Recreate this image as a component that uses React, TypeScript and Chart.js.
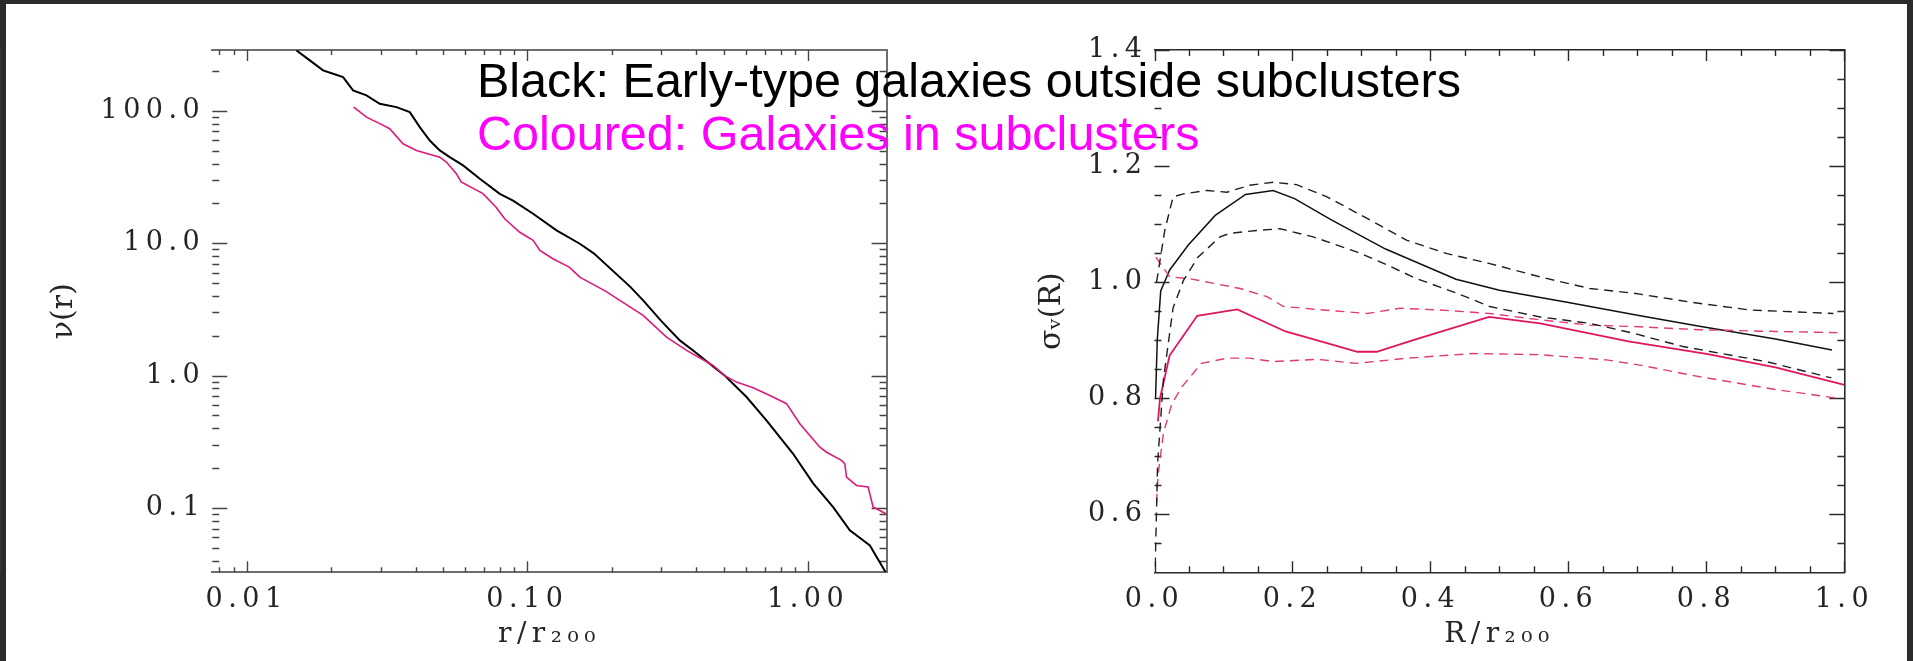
import React, { useEffect, useRef } from "react";
import { Chart, registerables } from "chart.js";

Chart.register(...registerables);

const W = 1913;
const H = 661;

// ---------- Left panel: nu(r) ----------
const ETG_R = [0.01506, 0.0168, 0.01873, 0.02033, 0.02207, 0.02395, 0.02674, 0.02981, 0.0342, 0.03814, 0.0414, 0.04494, 0.04878, 0.05294, 0.05905, 0.06774, 0.07981, 0.08898, 0.1049, 0.1271, 0.1538, 0.1725, 0.2333, 0.2586, 0.2998, 0.3494, 0.3897, 0.5052, 0.604, 0.711, 0.885, 1.043, 1.229, 1.409, 1.661, 1.89];
const ETG_NU = [285.9, 240.4, 202.2, 190.7, 179.7, 142.6, 130.7, 113.1, 106.7, 97.8, 75.3, 59.7, 50.2, 44.7, 38.7, 30.7, 23.6, 21.0, 16.7, 12.5, 9.91, 8.38, 4.66, 3.7, 2.59, 1.845, 1.55, 1.0, 0.689, 0.459, 0.257, 0.1535, 0.1016, 0.0678, 0.0522, 0.0327];
const SUB_R = [0.02408, 0.02674, 0.02981, 0.03235, 0.03608, 0.04028, 0.04878, 0.0515, 0.05589, 0.05813, 0.06953, 0.0774, 0.08307, 0.094, 0.1049, 0.1109, 0.1233, 0.1411, 0.1538, 0.1906, 0.2136, 0.2586, 0.3133, 0.3694, 0.4591, 0.505, 0.5563, 0.6374, 0.7509, 0.8381, 0.935, 1.102, 1.164, 1.316, 1.352, 1.371, 1.489, 1.637, 1.706, 1.754, 1.892];
const SUB_NU = [106.7, 89.6, 80.0, 73.3, 56.4, 50.2, 44.7, 41.0, 33.5, 29.0, 23.7, 18.7, 15.3, 12.1, 10.5, 8.83, 7.64, 6.6, 5.54, 4.33, 3.7, 2.85, 1.954, 1.55, 1.194, 1.0, 0.893, 0.81, 0.689, 0.614, 0.433, 0.288, 0.264, 0.229, 0.216, 0.171, 0.148, 0.144, 0.1016, 0.0988, 0.0905];

const NU_X_RANGE = [0.00755, 1.905];
const NU_Y_RANGE = [0.0327, 288];
const NU_X_TICKS = [0.01, 0.1, 1];
const NU_X_LABELS = ["0.01", "0.10", "1.00"];
const NU_Y_TICKS = [0.1, 1, 10, 100];
const NU_Y_LABELS = ["0.1", "1.0", "10.0", "100.0"];
const NU_X_MINOR = [0.008, 0.009, 0.02, 0.03, 0.04, 0.05, 0.06, 0.07, 0.08, 0.09, 0.2, 0.3, 0.4, 0.5, 0.6, 0.7, 0.8, 0.9];
const NU_Y_MINOR = [0.04, 0.05, 0.06, 0.07, 0.08, 0.09, 0.2, 0.3, 0.4, 0.5, 0.6, 0.7, 0.8, 0.9, 2, 3, 4, 5, 6, 7, 8, 9, 20, 30, 40, 50, 60, 70, 80, 90, 200];

// ---------- Right panel: sigma_v(R) ----------
const SIG_ETG_R = [0.0015, 0.004, 0.009, 0.022, 0.049, 0.088, 0.132, 0.172, 0.203, 0.257, 0.335, 0.437, 0.5, 0.6, 0.704, 0.79, 0.9, 0.982];
const SIG_ETG = [0.8, 0.9, 0.985, 1.021, 1.064, 1.115, 1.151, 1.158, 1.144, 1.107, 1.057, 1.005, 0.986, 0.965, 0.942, 0.924, 0.902, 0.883];
const SIG_ETG_HI_R = [0.003, 0.015, 0.027, 0.042, 0.076, 0.105, 0.138, 0.172, 0.206, 0.25, 0.317, 0.366, 0.424, 0.486, 0.559, 0.631, 0.694, 0.78, 0.863, 0.984];
const SIG_ETG_HI = [1.0, 1.09, 1.147, 1.152, 1.158, 1.155, 1.167, 1.172, 1.168, 1.147, 1.104, 1.072, 1.049, 1.032, 1.009, 0.989, 0.981, 0.965, 0.952, 0.946];
const SIG_ETG_LO_R = [0.001, 0.0045, 0.013, 0.027, 0.042, 0.063, 0.095, 0.109, 0.148, 0.182, 0.23, 0.293, 0.327, 0.38, 0.438, 0.486, 0.559, 0.631, 0.694, 0.766, 0.887, 0.981];
const SIG_ETG_LO = [0.51, 0.688, 0.833, 0.956, 1.003, 1.043, 1.078, 1.084, 1.089, 1.092, 1.078, 1.052, 1.035, 1.006, 0.981, 0.958, 0.94, 0.929, 0.912, 0.889, 0.863, 0.835];
const SIG_SUB_R = [0.005, 0.008, 0.022, 0.062, 0.12, 0.19, 0.25, 0.294, 0.322, 0.375, 0.485, 0.559, 0.687, 0.802, 0.9, 1.0];
const SIG_SUB = [0.76, 0.8, 0.874, 0.942, 0.953, 0.915, 0.895, 0.88, 0.88, 0.9, 0.94, 0.929, 0.898, 0.876, 0.853, 0.823];
const SIG_SUB_HI_R = [0.002, 0.022, 0.051, 0.124, 0.163, 0.187, 0.245, 0.308, 0.356, 0.414, 0.486, 0.559, 0.631, 0.704, 0.79, 0.9, 0.99];
const SIG_SUB_HI = [1.043, 1.009, 1.006, 0.989, 0.975, 0.958, 0.952, 0.946, 0.955, 0.952, 0.946, 0.935, 0.926, 0.923, 0.918, 0.915, 0.913];
const SIG_SUB_LO_R = [0.003, 0.005, 0.013, 0.025, 0.04, 0.068, 0.105, 0.138, 0.172, 0.235, 0.293, 0.366, 0.462, 0.559, 0.655, 0.704, 0.79, 0.9, 0.99];
const SIG_SUB_LO = [0.62, 0.666, 0.74, 0.79, 0.82, 0.86, 0.869, 0.869, 0.863, 0.867, 0.86, 0.869, 0.877, 0.875, 0.866, 0.857, 0.837, 0.815, 0.8];

const SIG_X_RANGE = [0, 1];
const SIG_Y_RANGE = [0.5, 1.4];
const SIG_X_TICKS = [0, 0.2, 0.4, 0.6, 0.8, 1.0];
const SIG_X_LABELS = ["0.0", "0.2", "0.4", "0.6", "0.8", "1.0"];
const SIG_Y_TICKS = [0.6, 0.8, 1.0, 1.2, 1.4];
const SIG_Y_LABELS = ["0.6", "0.8", "1.0", "1.2", "1.4"];
const SIG_X_MINOR = [0.05, 0.1, 0.15, 0.25, 0.3, 0.35, 0.45, 0.5, 0.55, 0.65, 0.7, 0.75, 0.85, 0.9, 0.95];
const SIG_Y_MINOR = [0.55, 0.65, 0.7, 0.75, 0.85, 0.9, 0.95, 1.05, 1.1, 1.15, 1.25, 1.3, 1.35];

const LEGEND_LINES = ["Black: Early-type galaxies outside subclusters", "Coloured: Galaxies in subclusters"];
const LEGEND_COLORS = ["#000000", "#ff00ff"];

const SERIF = "'DejaVu Serif', serif";
const TICK_FONT = { family: SERIF, size: 27 };
const X_TITLE_FONT = { family: SERIF, size: 28 };
const Y_TITLE_FONT = { family: SERIF, size: 30 };
const TEXT_COLOR = "#252525";
const LABEL_SPACING = "5.5px";

const pts = (xs: number[], ys: number[]) => xs.map((x, i) => ({ x, y: ys[i] }));

// IDL-like inward ticks on all four sides
const idlTicks = {
  id: "idlTicks",
  beforeDatasetsDraw(chart: any, _args: any, o: any) {
    const { ctx, chartArea: a, scales } = chart;
    const xs = scales.x;
    const ys = scales.y;
    ctx.save();
    ctx.strokeStyle = o.color;
    ctx.lineWidth = o.width;
    ctx.beginPath();
    const vert = (vals: number[], len: number) =>
      vals.forEach((v) => {
        const p = Math.round(xs.getPixelForValue(v)) + 0.5;
        ctx.moveTo(p, a.bottom);
        ctx.lineTo(p, a.bottom - len);
        ctx.moveTo(p, a.top);
        ctx.lineTo(p, a.top + len);
      });
    const hor = (vals: number[], len: number) =>
      vals.forEach((v) => {
        const p = Math.round(ys.getPixelForValue(v)) + 0.5;
        ctx.moveTo(a.left, p);
        ctx.lineTo(a.left + len, p);
        ctx.moveTo(a.right, p);
        ctx.lineTo(a.right - len, p);
      });
    vert(o.xMajor, o.xMajorLen);
    vert(o.xMinor, o.xMinorLen);
    hor(o.yMajor, o.yMajorLen);
    hor(o.yMinor, o.yMinorLen);
    ctx.stroke();
    ctx.restore();
  },
};

// Hershey-like wide spacing for tick labels and x titles (drawn before datasets),
// normal spacing for the rotated y titles (drawn after datasets)
const spacing = {
  id: "hersheySpacing",
  beforeDraw(chart: any) {
    chart.ctx.letterSpacing = LABEL_SPACING;
  },
  afterDatasetsDraw(chart: any) {
    chart.ctx.letterSpacing = "0px";
  },
  afterDraw(chart: any) {
    chart.ctx.letterSpacing = "0px";
  },
};

const overlayText = {
  id: "overlayText",
  afterDraw(chart: any) {
    const ctx = chart.ctx;
    ctx.save();
    ctx.letterSpacing = "0px";
    ctx.font = "48.5px 'Liberation Sans', Arial, sans-serif";
    ctx.textAlign = "left";
    ctx.textBaseline = "alphabetic";
    ctx.fillStyle = LEGEND_COLORS[0];
    ctx.fillText(LEGEND_LINES[0], 477, 97);
    ctx.fillStyle = LEGEND_COLORS[1];
    ctx.fillText(LEGEND_LINES[1], 477, 150);
    ctx.restore();
  },
};

type Panel = {
  type: string;
  xRange: number[];
  yRange: number[];
  xTicks: number[];
  xLabels: string[];
  yTicks: number[];
  yLabels: string[];
  xMinor: number[];
  yMinor: number[];
  xTitle: string;
  yTitle: string;
  boxLeft: number;
  area: { left: number; right: number; top: number; bottom: number };
  yTitleCenter: number;
  boxColor: string;
  boxWidth: number;
  tickColor: string;
  xMajorLen: number;
  xMinorLen: number;
  yMajorLen: number;
  yMinorLen: number;
};

function buildOptions(p: Panel) {
  const half = (Y_TITLE_FONT.size * 1.2) / 2;
  const border = { display: true, color: p.boxColor, width: p.boxWidth };
  const hidden = {
    type: p.type,
    bounds: "data",
    ticks: { display: false },
    grid: { display: false, drawTicks: false },
    border,
  };
  return {
    animation: false,
    responsive: false,
    maintainAspectRatio: false,
    events: [],
    layout: {
      padding: { left: p.boxLeft, right: W - p.area.right, top: p.area.top, bottom: 0 },
    },
    plugins: {
      legend: { display: false },
      tooltip: { enabled: false },
      title: { display: false },
      idlTicks: {
        color: p.tickColor,
        width: 1.4,
        xMajor: p.xTicks,
        xMinor: p.xMinor,
        yMajor: p.yTicks,
        yMinor: p.yMinor,
        xMajorLen: p.xMajorLen,
        xMinorLen: p.xMinorLen,
        yMajorLen: p.yMajorLen,
        yMinorLen: p.yMinorLen,
      },
    },
    scales: {
      x: {
        type: p.type,
        position: "bottom",
        min: p.xRange[0],
        max: p.xRange[1],
        bounds: "data",
        afterBuildTicks: (s: any) => {
          s.ticks = p.xTicks.map((v) => ({ value: v }));
        },
        afterFit: (s: any) => {
          s.height = H - p.area.bottom;
        },
        ticks: {
          callback: (_v: any, i: number) => p.xLabels[i],
          font: TICK_FONT,
          color: TEXT_COLOR,
          padding: 11,
          autoSkip: false,
          maxRotation: 0,
          minRotation: 0,
        },
        grid: { display: false, drawTicks: false },
        border,
        title: {
          display: true,
          text: p.xTitle,
          font: X_TITLE_FONT,
          color: TEXT_COLOR,
          padding: { top: 0, bottom: 9 },
        },
      },
      y: {
        type: p.type,
        position: "left",
        min: p.yRange[0],
        max: p.yRange[1],
        bounds: "data",
        afterBuildTicks: (s: any) => {
          s.ticks = p.yTicks.map((v) => ({ value: v }));
        },
        afterFit: (s: any) => {
          s.width = p.area.left - p.boxLeft;
        },
        ticks: {
          callback: (_v: any, i: number) => p.yLabels[i],
          font: TICK_FONT,
          color: TEXT_COLOR,
          padding: 7,
          autoSkip: false,
        },
        grid: { display: false, drawTicks: false, z: 1 },
        border,
        title: {
          display: true,
          text: p.yTitle,
          font: Y_TITLE_FONT,
          color: TEXT_COLOR,
          padding: { top: p.yTitleCenter - p.boxLeft - half, bottom: 0 },
        },
      },
      x2: {
        ...hidden,
        position: "top",
        min: p.xRange[0],
        max: p.xRange[1],
        afterFit: (s: any) => {
          s.height = 0;
        },
      },
      y2: {
        ...hidden,
        position: "right",
        min: p.yRange[0],
        max: p.yRange[1],
        afterFit: (s: any) => {
          s.width = 0;
        },
      },
    },
  };
}

const LEFT_PANEL: Panel = {
  type: "logarithmic",
  xRange: NU_X_RANGE,
  yRange: NU_Y_RANGE,
  xTicks: NU_X_TICKS,
  xLabels: NU_X_LABELS,
  yTicks: NU_Y_TICKS,
  yLabels: NU_Y_LABELS,
  xMinor: NU_X_MINOR,
  yMinor: NU_Y_MINOR,
  xTitle: "r/r₂₀₀",
  yTitle: "ν(r)",
  boxLeft: 0,
  area: { left: 212.3, right: 886.6, top: 50, bottom: 572.3 },
  yTitleCenter: 64,
  boxColor: "#6e6e6e",
  boxWidth: 2,
  tickColor: "#444444",
  xMajorLen: 11,
  xMinorLen: 5,
  yMajorLen: 15,
  yMinorLen: 7,
};

const RIGHT_PANEL: Panel = {
  type: "linear",
  xRange: SIG_X_RANGE,
  yRange: SIG_Y_RANGE,
  xTicks: SIG_X_TICKS,
  xLabels: SIG_X_LABELS,
  yTicks: SIG_Y_TICKS,
  yLabels: SIG_Y_LABELS,
  xMinor: SIG_X_MINOR,
  yMinor: SIG_Y_MINOR,
  xTitle: "R/r₂₀₀",
  yTitle: "σᵥ(R)",
  boxLeft: 960,
  area: { left: 1154.5, right: 1844.4, top: 50, bottom: 572.3 },
  yTitleCenter: 1052,
  boxColor: "#2a2a2a",
  boxWidth: 1.6,
  tickColor: "#2a2a2a",
  xMajorLen: 11,
  xMinorLen: 6,
  yMajorLen: 15,
  yMinorLen: 7,
};

const line = (data: any[], color: string, width: number, dash: number[] = []) => ({
  data,
  borderColor: color,
  backgroundColor: color,
  borderWidth: width,
  borderDash: dash,
  pointRadius: 0,
  showLine: true,
  tension: 0,
  fill: false,
});

export default function App() {
  const leftRef = useRef<HTMLCanvasElement>(null);
  const rightRef = useRef<HTMLCanvasElement>(null);

  useEffect(() => {
    const left = new Chart(leftRef.current as HTMLCanvasElement, {
      type: "scatter",
      data: {
        datasets: [
          line(pts(SUB_R, SUB_NU), "#dd1a78", 1.6),
          line(pts(ETG_R, ETG_NU), "#000000", 2),
        ],
      },
      options: buildOptions(LEFT_PANEL) as any,
      plugins: [spacing, idlTicks],
    });
    const dash = [9, 6];
    const right = new Chart(rightRef.current as HTMLCanvasElement, {
      type: "scatter",
      data: {
        datasets: [
          line(pts(SIG_ETG_HI_R, SIG_ETG_HI), "#1e1e1e", 1.4, dash),
          line(pts(SIG_ETG_LO_R, SIG_ETG_LO), "#1e1e1e", 1.4, dash),
          line(pts(SIG_SUB_HI_R, SIG_SUB_HI), "#e03a7c", 1.4, dash),
          line(pts(SIG_SUB_LO_R, SIG_SUB_LO), "#e03a7c", 1.4, dash),
          line(pts(SIG_ETG_R, SIG_ETG), "#111111", 1.5),
          line(pts(SIG_SUB_R, SIG_SUB), "#e0155f", 1.8),
        ],
      },
      options: buildOptions(RIGHT_PANEL) as any,
      plugins: [spacing, idlTicks, overlayText],
    });
    return () => {
      left.destroy();
      right.destroy();
    };
  }, []);

  return (
    <div
      style={{
        position: "fixed",
        left: 0,
        top: 0,
        width: W,
        height: H,
        background: "#2b2b2b",
        overflow: "hidden",
      }}
    >
      <div style={{ position: "absolute", left: 6, top: 4, width: 1901, height: H, background: "#ffffff" }} />
      <canvas ref={leftRef} width={W} height={H} style={{ position: "absolute", left: 0, top: 0 }} />
      <canvas ref={rightRef} width={W} height={H} style={{ position: "absolute", left: 0, top: 0 }} />
    </div>
  );
}
